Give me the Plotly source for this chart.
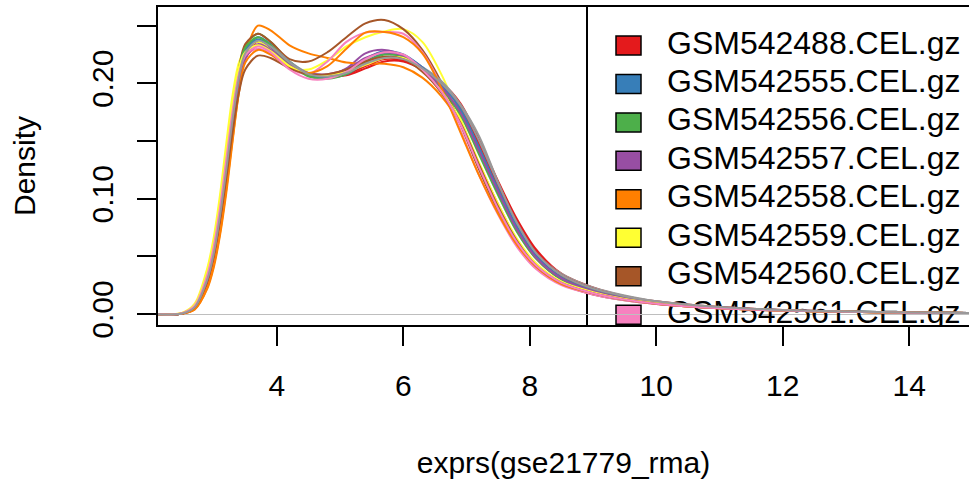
import plotly.graph_objects as go

# ---------------- data ----------------
X_GRID = [2.0, 2.5, 2.7, 2.9, 3.0, 3.1, 3.2, 3.3, 3.4, 3.5, 3.7, 3.9, 4.2, 4.5, 4.8,
          5.1, 5.4, 5.7, 6.0, 6.3, 6.6, 6.9, 7.2, 7.5, 7.8, 8.1, 8.5, 9.0, 9.5, 10.0,
          11.0, 12.0, 13.0, 14.0, 15.0]

SAMPLES = ["GSM542488.CEL.gz", "GSM542555.CEL.gz", "GSM542556.CEL.gz", "GSM542557.CEL.gz",
           "GSM542558.CEL.gz", "GSM542559.CEL.gz", "GSM542560.CEL.gz", "GSM542561.CEL.gz",
           "GSM542562.CEL.gz", "GSM542563.CEL.gz", "GSM542564.CEL.gz", "GSM542565.CEL.gz",
           "GSM542566.CEL.gz", "GSM542567.CEL.gz", "GSM542568.CEL.gz", "GSM542569.CEL.gz",
           "GSM542570.CEL.gz", "GSM542571.CEL.gz"]

SET1 = ["#E41A1C", "#377EB8", "#4DAF4A", "#984EA3", "#FF7F00",
        "#FFFF33", "#A65628", "#F781BF", "#999999"]

D01 = [0, 0.0004, 0.005, 0.027, 0.048, 0.080, 0.118, 0.163, 0.202, 0.224, 0.236, 0.230, 0.217, 0.208, 0.206,
       0.207, 0.213, 0.219, 0.219, 0.212, 0.201, 0.183, 0.151, 0.115, 0.082, 0.056, 0.035, 0.023, 0.0155, 0.011,
       0.006, 0.0035, 0.0022, 0.0014, 0.0009]
D02 = [0, 0.0005, 0.006, 0.030, 0.052, 0.085, 0.125, 0.170, 0.207, 0.228, 0.240, 0.234, 0.219, 0.208, 0.206,
       0.210, 0.221, 0.228, 0.225, 0.214, 0.200, 0.179, 0.145, 0.110, 0.077, 0.051, 0.032, 0.021, 0.0145, 0.0105,
       0.0057, 0.0033, 0.0021, 0.0013, 0.0008]
D03 = [0, 0.0005, 0.006, 0.031, 0.054, 0.088, 0.129, 0.174, 0.211, 0.232, 0.243, 0.236, 0.219, 0.207, 0.205,
       0.209, 0.219, 0.226, 0.224, 0.213, 0.198, 0.176, 0.141, 0.106, 0.073, 0.049, 0.031, 0.021, 0.0145, 0.0105,
       0.0057, 0.0033, 0.0021, 0.0013, 0.0008]
D04 = [0, 0.0005, 0.006, 0.030, 0.052, 0.085, 0.125, 0.168, 0.204, 0.224, 0.237, 0.230, 0.216, 0.208, 0.207,
       0.213, 0.226, 0.229, 0.224, 0.212, 0.196, 0.174, 0.140, 0.105, 0.072, 0.048, 0.030, 0.020, 0.014, 0.010,
       0.0055, 0.0032, 0.002, 0.0013, 0.0008]
D05 = [0, 0.0003, 0.004, 0.022, 0.040, 0.068, 0.105, 0.150, 0.193, 0.225, 0.250, 0.246, 0.233, 0.226, 0.222,
       0.218, 0.217, 0.217, 0.214, 0.205, 0.189, 0.165, 0.130, 0.095, 0.064, 0.043, 0.027, 0.018, 0.013, 0.0095,
       0.0052, 0.0031, 0.002, 0.0012, 0.0008]
D06 = [0, 0.001, 0.009, 0.040, 0.066, 0.103, 0.148, 0.190, 0.218, 0.229, 0.236, 0.229, 0.214, 0.212, 0.220,
       0.232, 0.240, 0.245, 0.247, 0.236, 0.208, 0.170, 0.128, 0.092, 0.063, 0.043, 0.027, 0.018, 0.0125, 0.009,
       0.005, 0.003, 0.0019, 0.0012, 0.0008]
D07 = [0, 0.0005, 0.006, 0.031, 0.054, 0.088, 0.130, 0.176, 0.213, 0.234, 0.243, 0.236, 0.221, 0.219, 0.227,
       0.240, 0.252, 0.255, 0.247, 0.229, 0.201, 0.165, 0.125, 0.089, 0.060, 0.041, 0.026, 0.017, 0.012, 0.0088,
       0.005, 0.003, 0.0019, 0.0012, 0.0008]
D08 = [0, 0.0008, 0.008, 0.036, 0.060, 0.095, 0.138, 0.180, 0.210, 0.224, 0.230, 0.226, 0.213, 0.208, 0.219,
       0.236, 0.244, 0.2445, 0.243, 0.227, 0.198, 0.160, 0.120, 0.086, 0.058, 0.039, 0.025, 0.017, 0.012, 0.0088,
       0.005, 0.003, 0.0019, 0.0012, 0.0008]
D09 = [0, 0.0005, 0.006, 0.030, 0.053, 0.086, 0.126, 0.171, 0.207, 0.227, 0.238, 0.233, 0.219, 0.209, 0.206,
       0.208, 0.216, 0.223, 0.222, 0.214, 0.202, 0.182, 0.154, 0.114, 0.078, 0.053, 0.035, 0.023, 0.016, 0.011,
       0.006, 0.0035, 0.0022, 0.0014, 0.0009]
D10 = [0, 0.0004, 0.005, 0.028, 0.050, 0.082, 0.121, 0.165, 0.202, 0.222, 0.233, 0.228, 0.216, 0.208, 0.206,
       0.208, 0.215, 0.221, 0.220, 0.212, 0.199, 0.180, 0.148, 0.112, 0.080, 0.054, 0.034, 0.022, 0.015, 0.0105,
       0.0058, 0.0034, 0.0021, 0.0013, 0.0009]
D11 = [0, 0.0005, 0.006, 0.031, 0.054, 0.087, 0.128, 0.172, 0.208, 0.229, 0.238, 0.232, 0.218, 0.208, 0.205,
       0.208, 0.218, 0.226, 0.224, 0.214, 0.199, 0.178, 0.144, 0.108, 0.075, 0.050, 0.031, 0.021, 0.0145, 0.0103,
       0.0056, 0.0033, 0.0021, 0.0013, 0.0008]
D12 = [0, 0.0006, 0.007, 0.033, 0.057, 0.091, 0.133, 0.177, 0.212, 0.231, 0.240, 0.233, 0.217, 0.206, 0.204,
       0.208, 0.218, 0.225, 0.223, 0.212, 0.196, 0.173, 0.138, 0.103, 0.071, 0.048, 0.030, 0.020, 0.014, 0.010,
       0.0055, 0.0032, 0.002, 0.0013, 0.0008]
D13 = [0, 0.0005, 0.006, 0.029, 0.051, 0.083, 0.122, 0.165, 0.201, 0.221, 0.234, 0.229, 0.216, 0.209, 0.208,
       0.212, 0.222, 0.227, 0.224, 0.213, 0.197, 0.175, 0.141, 0.106, 0.073, 0.049, 0.031, 0.020, 0.014, 0.010,
       0.0055, 0.0032, 0.002, 0.0013, 0.0008]
D14 = [0, 0.0003, 0.004, 0.023, 0.042, 0.070, 0.108, 0.152, 0.192, 0.218, 0.229, 0.225, 0.214, 0.209, 0.215,
       0.230, 0.244, 0.2445, 0.240, 0.226, 0.196, 0.158, 0.120, 0.087, 0.060, 0.041, 0.026, 0.018, 0.0125, 0.009,
       0.005, 0.003, 0.0019, 0.0012, 0.0008]
D15 = [0, 0.0009, 0.008, 0.038, 0.063, 0.099, 0.142, 0.184, 0.214, 0.227, 0.233, 0.228, 0.215, 0.208, 0.207,
       0.210, 0.216, 0.222, 0.222, 0.211, 0.193, 0.168, 0.131, 0.095, 0.065, 0.044, 0.028, 0.019, 0.013, 0.0095,
       0.0052, 0.0031, 0.002, 0.0012, 0.0008]
D16 = [0, 0.0005, 0.006, 0.029, 0.050, 0.081, 0.118, 0.158, 0.192, 0.212, 0.224, 0.222, 0.213, 0.208, 0.208,
       0.212, 0.219, 0.223, 0.221, 0.210, 0.192, 0.166, 0.129, 0.093, 0.063, 0.042, 0.027, 0.018, 0.0125, 0.009,
       0.005, 0.003, 0.0019, 0.0012, 0.0008]
D17 = [0, 0.0007, 0.007, 0.034, 0.058, 0.092, 0.134, 0.176, 0.208, 0.224, 0.232, 0.227, 0.212, 0.204, 0.204,
       0.210, 0.221, 0.227, 0.225, 0.212, 0.193, 0.165, 0.127, 0.091, 0.062, 0.042, 0.027, 0.018, 0.0125, 0.009,
       0.005, 0.003, 0.0019, 0.0012, 0.0008]
D18 = [0, 0.0005, 0.006, 0.030, 0.052, 0.085, 0.125, 0.169, 0.205, 0.226, 0.237, 0.232, 0.218, 0.208, 0.206,
       0.209, 0.217, 0.222, 0.221, 0.213, 0.200, 0.181, 0.150, 0.113, 0.079, 0.053, 0.034, 0.022, 0.0155, 0.011,
       0.006, 0.0035, 0.0022, 0.0014, 0.0009]

DENSITIES = [D01, D02, D03, D04, D05, D06, D07, D08, D09,
             D10, D11, D12, D13, D14, D15, D16, D17, D18]

X_TICKS = [4, 6, 8, 10, 12, 14]
Y_TICKS = [0.0, 0.05, 0.10, 0.15, 0.20, 0.25]
Y_TICK_TEXT = ["0.00", "", "0.10", "", "0.20", ""]

# ---------------- layout geometry (pixels) ----------------
W, H = 969, 483
PL, PR, PT, PB = 158, 969, 7, 325
X_RANGE = [2.120, 14.946]
Y_RANGE = [-0.0095, 0.2662]
FONT = "Liberation Sans, Arial, Helvetica, sans-serif"

def px_to_x(px):
    return X_RANGE[0] + (px - PL) / (PR - PL) * (X_RANGE[1] - X_RANGE[0])

def py_to_y(py):
    return Y_RANGE[1] - (py - PT) / (PB - PT) * (Y_RANGE[1] - Y_RANGE[0])

def px_paper(px):
    return (px - PL) / (PR - PL)

def py_paper(py):
    return 1 - (py - PT) / (PB - PT)

LEG_BOX_X = 587
LEG_SQ_X0, LEG_SQ_X1 = 616, 641
LEG_TEXT_X = 667
LEG_ROW0, LEG_ROW_STEP = 45.5, 38.45
SQ_H = 19

fig = go.Figure()

# legend rows that fall inside the plot region (the R legend is clipped to it)
rows = [LEG_ROW0 + i * LEG_ROW_STEP for i in range(len(SAMPLES))]
vis = [i for i, r in enumerate(rows) if r - SQ_H / 2 < PB]

# legend labels (drawn first so curves pass over them, clipped to plot area)
fig.add_trace(go.Scatter(
    x=[px_to_x(LEG_TEXT_X)] * len(vis),
    y=[py_to_y(rows[i]) for i in vis],
    text=[SAMPLES[i] for i in vis], mode="text", textposition="middle right",
    textfont=dict(family=FONT, size=32, color="black"),
    hoverinfo="skip", showlegend=False, cliponaxis=True))

shapes = []
shapes.append(dict(type="line", xref="paper", yref="paper",
                   x0=px_paper(LEG_BOX_X), x1=px_paper(LEG_BOX_X), y0=0, y1=1,
                   line=dict(color="black", width=2), layer="below"))
for i in vis:
    r = rows[i]
    shapes.append(dict(type="rect", xref="paper", yref="paper",
                       x0=px_paper(LEG_SQ_X0), x1=px_paper(LEG_SQ_X1),
                       y0=py_paper(min(r + SQ_H / 2, PB)), y1=py_paper(r - SQ_H / 2),
                       fillcolor=SET1[i % 9], line=dict(color="black", width=1.5),
                       layer="below"))

for i, d in enumerate(DENSITIES):
    fig.add_trace(go.Scatter(
        x=X_GRID, y=d, mode="lines",
        line=dict(color=SET1[i % 9], width=2, shape="spline", smoothing=0.9),
        name=SAMPLES[i], showlegend=False, hoverinfo="skip"))

axis_common = dict(showgrid=False, ticks="outside", ticklen=19, tickwidth=1.5,
                   tickcolor="black", showline=True, linecolor="black", linewidth=2,
                   tickfont=dict(family=FONT, size=30, color="black"))

fig.update_layout(
    width=W, height=H,
    margin=dict(l=PL, r=W - PR, t=PT, b=H - PB),
    paper_bgcolor="white", plot_bgcolor="white",
    font=dict(family=FONT, color="black"),
    shapes=shapes,
    xaxis=dict(range=X_RANGE, tickvals=X_TICKS, ticktext=[str(v) for v in X_TICKS],
               mirror=True, zeroline=False, ticklabelstandoff=14,
               title=dict(text="exprs(gse21779_rma)", font=dict(family=FONT, size=30),
                          standoff=51),
               **axis_common),
    yaxis=dict(range=Y_RANGE, tickvals=Y_TICKS, ticktext=Y_TICK_TEXT, tickangle=-90,
               mirror=False, zeroline=True, zerolinecolor="#BEBEBE", zerolinewidth=1,
               ticklabelstandoff=12,
               title=dict(text="Density", font=dict(family=FONT, size=30), standoff=42),
               **axis_common),
)

fig.write_html("out.html", config={"displayModeBar": False},
               post_script="document.body.style.margin='0';")
